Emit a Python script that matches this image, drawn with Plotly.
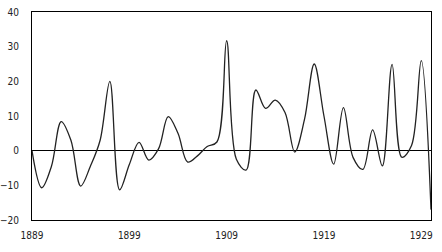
import plotly.graph_objects as go

years = list(range(1889, 1931))
values = [0, -10.7, -4.5, 8.4, 3, -10.2, -4.5, 3, 20, -11.3,
          -4, 2.4, -2.7, 0.5, 9.8, 5, -3.3, -1.5, 1.2, 2.5,
          31.7, -2.5, -5.6, 17.5, 12.2, 14.6, 11, -0.4, 9, 25,
          10, -3.9, 12.4, -2, -5.4, 6, -4.4, 24.9, -1.9, 1.5,
          26, -17]
xticks = [1889, 1899, 1909, 1919, 1929]
yticks = [-20, -10, 0, 10, 20, 30, 40]

fig = go.Figure()
fig.add_trace(go.Scatter(x=years, y=values, mode="lines",
                         line=dict(color="#222222", width=1.3, shape="spline", smoothing=1.0),
                         showlegend=False, hoverinfo="skip"))

fig.update_layout(
    width=442, height=252,
    margin=dict(l=32, r=11, t=12, b=32, autoexpand=False),
    paper_bgcolor="white", plot_bgcolor="white",
    font=dict(family="DejaVu Sans Condensed, DejaVu Sans", size=10, color="#222222"),
)
fig.update_xaxes(range=[1889, 1930], tickvals=xticks, ticktext=[str(t) for t in xticks],
                 showgrid=False, zeroline=False, showline=True, linecolor="black",
                 linewidth=1, mirror=True, ticks="", ticklabelstandoff=6, automargin=False)
fig.update_yaxes(range=[-20, 40], tickvals=yticks, showgrid=False, zeroline=True,
                 zerolinecolor="black", zerolinewidth=1, showline=True, linecolor="black",
                 linewidth=1, mirror=True, ticks="", ticklabelstandoff=10, automargin=False)

fig.write_html("out.html", config={"displayModeBar": False},
               post_script="document.body.style.margin='0';document.body.style.overflow='hidden';")
